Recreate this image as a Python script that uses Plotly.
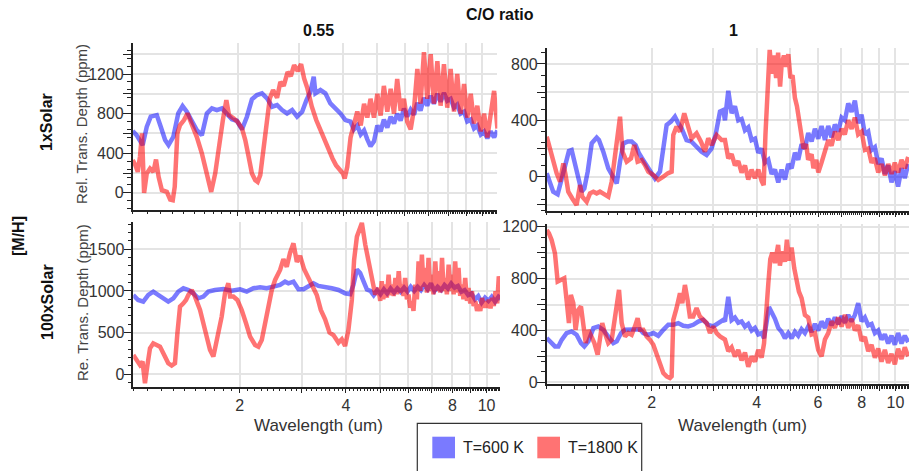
import plotly.graph_objects as go

# ---------------- data ----------------
grid_left = [4.20, 4.29, 4.39, 4.49, 4.59, 4.69, 4.79, 4.90, 5.01, 5.12, 5.23, 5.35, 5.47, 5.59, 5.71,
             5.84, 5.97, 6.10, 6.24, 6.38, 6.52, 6.66, 6.81, 6.96, 7.12, 7.27, 7.44, 7.60, 7.77, 7.94,
             8.12, 8.30, 8.48, 8.67, 8.87, 9.06, 9.27, 9.47, 9.68, 9.90, 10.12, 10.34, 10.57, 10.81, 11.05]
grid_right = [3.245, 3.317, 3.391, 3.466, 3.543, 3.622, 3.703, 3.785, 3.869, 3.955, 4.044, 4.134, 4.226,
              4.320, 4.416, 4.514, 4.614, 4.717, 4.822, 4.929, 5.039, 5.151, 5.265, 5.382, 5.502, 5.624,
              5.750, 5.877, 6.008, 6.141, 6.279, 6.418, 6.561, 6.707, 6.856, 7.009, 7.164, 7.324, 7.486,
              7.653, 7.823, 7.997, 8.175, 8.357, 8.543, 8.733, 8.927, 9.126, 9.327, 9.535, 9.746, 9.963,
              10.18, 10.41, 10.64, 10.88]

# 1xSolar, C/O = 0.55
tl_600_wl = [1.000, 1.026, 1.068, 1.097, 1.126, 1.172, 1.203, 1.238, 1.266, 1.307,
             1.350, 1.389, 1.428, 1.485, 1.525, 1.577, 1.630, 1.685, 1.741, 1.800,
             1.860, 1.922, 1.986, 2.054, 2.122, 2.193, 2.267, 2.343, 2.423, 2.504,
             2.588, 2.675, 2.764, 2.858, 2.953, 3.053, 3.141, 3.225, 3.295, 3.332,
             3.443, 3.558, 3.677, 3.800, 3.929, 4.060] + grid_left
tl_600_ppm = [624, 583, 482, 667, 769, 785, 667, 533, 482, 566,
              802, 877, 819, 701, 634, 583, 802, 853, 836, 853,
              802, 742, 728, 640, 769, 944, 988, 1005, 954, 870,
              887, 836, 802, 836, 769, 819, 937, 1021, 1173, 1005,
              1038, 1005, 903, 853, 802, 735,
              720, 640, 680, 590, 630, 540, 470, 520, 680, 620, 740, 660, 770, 700, 800,
              730, 850, 770, 840, 790, 910, 830, 960, 880, 980, 900, 1000, 920, 1010, 930,
              950, 860, 890, 800, 820, 720, 740, 650, 680, 590, 620, 550, 620, 560, 630]

tl_1800_wl = [1.000, 1.018, 1.034, 1.049, 1.063, 1.078, 1.097, 1.121, 1.146, 1.166,
              1.186, 1.212, 1.252, 1.280, 1.302, 1.319, 1.342, 1.366, 1.402, 1.434,
              1.475, 1.525, 1.577, 1.630, 1.677, 1.722, 1.771, 1.811, 1.853, 1.886,
              1.943, 1.995, 2.054, 2.099, 2.146, 2.193, 2.242, 2.277, 2.317, 2.370,
              2.423, 2.467, 2.521, 2.588, 2.645, 2.704, 2.774, 2.834, 2.896, 2.966,
              3.032, 3.093, 3.161, 3.254, 3.350, 3.443, 3.538, 3.644, 3.729, 3.815,
              3.903, 3.993, 4.04, 4.11] + grid_left
tl_1800_ppm = [330, 280, 212, 364, 600, 0, 196, 246, 212, 337,
               162, 27, 10, -67, -74, 61, 600, 684, 735, 802,
               694, 566, 398, 196, 10, 196, 533, 735, 937, 785,
               752, 718, 651, 533, 364, 196, 128, 111, 179, 465,
               735, 954, 1038, 960, 1120, 1080, 1220, 1180, 1290, 1230,
               1300, 1156, 1055, 870, 735, 634, 533, 415, 347, 280,
               229, 196, 145, 263,
               560, 700, 820, 680, 900, 760, 950, 760, 1000, 780, 1080, 820, 1050, 800, 1150,
               830, 950, 720, 640, 850, 1250, 900, 1420, 950, 1400, 900, 1330, 880, 1300, 860,
               1250, 820, 1200, 800, 1100, 760, 1000, 700, 880, 620, 800, 560, 760, 1030, 650]

# 1xSolar, C/O = 1
tr_600_wl = [1.000, 1.011, 1.044, 1.075, 1.104, 1.133, 1.158, 1.179, 1.205, 1.232,
             1.260, 1.282, 1.311, 1.346, 1.391, 1.412, 1.453, 1.502, 1.553, 1.588,
             1.623, 1.659, 1.707, 1.752, 1.799, 1.839, 1.892, 1.956, 2.044, 2.113,
             2.160, 2.208, 2.272, 2.332, 2.384, 2.437, 2.518, 2.603, 2.690, 2.780,
             2.875, 2.971, 3.050, 3.140, 3.210] + grid_right
tr_600_ppm = [24, -12, -106, -125, -12, 107, 182, 189, 83, -23,
              -106, -83, 36, 237, 277, 260, 178, 59, -12, -47,
              107, 237, 249, 249, 225, 166, 118, 59, -12, 36,
              201, 367, 391, 426, 379, 343, 260, 249, 213, 178,
              154, 201, 296, 462, 473,
              400, 610, 450, 500, 400, 410, 330, 350, 260, 270, 170, 200, 100, 120, 20, 50,
              -40, 50, -20, 90, 60, 170, 120, 230, 200, 310, 250, 340, 270, 360, 260, 360,
              280, 370, 320, 420, 400, 520, 460, 540, 380, 440, 300, 320, 190, 210, 90, 130,
              20, 80, -40, 40, -70, 60, -10, 90]

tr_1800_wl = [1.000, 1.015, 1.044, 1.068, 1.092, 1.116, 1.133, 1.153, 1.184, 1.218,
              1.246, 1.265, 1.302, 1.331, 1.361, 1.391, 1.421, 1.463, 1.502, 1.536,
              1.570, 1.605, 1.623, 1.649, 1.696, 1.745, 1.783, 1.823, 1.872, 1.913,
              1.956, 2.022, 2.089, 2.160, 2.222, 2.282, 2.307, 2.357, 2.411, 2.480,
              2.535, 2.603, 2.690, 2.770, 2.843, 2.906, 2.971, 3.071, 3.174,
              3.245, 3.317, 3.391, 3.466, 3.543, 3.622, 3.703, 3.785, 3.869, 3.955,
              4.044, 4.134, 4.19, 4.24, 4.30, 4.36, 4.42, 4.48, 4.55, 4.61,
              4.67, 4.72, 4.79, 4.86, 4.93, 5.00, 5.07, 5.15, 5.22, 5.31,
              5.38, 5.45, 5.55, 5.62, 5.75, 5.82, 5.93, 6.01, 6.14, 6.28,
              6.42, 6.56, 6.71, 6.86, 7.01, 7.16, 7.32, 7.49, 7.65, 7.82,
              8.00, 8.18, 8.36, 8.54, 8.73, 8.93, 9.13, 9.33, 9.54, 9.75,
              9.96, 10.18, 10.41, 10.64, 10.88]
tr_1800_ppm = [284, 225, 130, 24, -35, 95, 12, -106, -154, -201,
               -59, -142, -177, -118, -106, -118, -106, -130, -142, -35,
               154, 296, 426, 178, 107, 130, 225, 107, 118, 83,
               36, 12, -23, 0, 24, 36, 296, 355, 320, 450,
               367, 272, 308, 249, 178, 272, 225, 296, 260,
               260, 130, 160, 80, 110, 30, 80, -20, 50, -10,
               50, -30, -60, 300, 700, 900, 730, 860, 700, 880,
               640, 800, 860, 780, 870, 700, 720, 560, 500, 380,
               330, 200, 230, 120, 160, 60, 120, 30, 100, 180,
               260, 220, 320, 260, 340, 300, 400, 340, 420, 300,
               320, 190, 200, 100, 130, 30, 90, 10, 90, 20,
               100, 30, 120, 60, 140]

# 100xSolar, C/O = 0.55
bl_600_wl = [1.000, 1.032, 1.067, 1.103, 1.139, 1.177, 1.216, 1.256, 1.298, 1.341,
             1.386, 1.432, 1.479, 1.528, 1.579, 1.631, 1.704, 1.799, 1.899, 2.005,
             2.095, 2.188, 2.285, 2.386, 2.493, 2.603, 2.689, 2.748, 2.840, 2.934,
             3.032, 3.133, 3.236, 3.343, 3.491, 3.647, 3.808, 3.977, 4.111, 4.20,
             4.295, 4.387, 4.485, 4.585] + grid_left[5:]
bl_600_ppm = [952, 892, 872, 952, 992, 952, 912, 872, 912, 992,
              1032, 1012, 972, 912, 932, 992, 1012, 1024, 1004, 1020,
              992, 1032, 1044, 1032, 1052, 1072, 1112, 1092, 1112, 1020,
              1020, 1052, 1092, 1060, 1052, 1032, 1012, 972, 960, 1076,
              1256, 1216, 1116, 1016,
              1000, 950, 1010, 960, 1020, 970, 1030, 980, 1030, 990,
              1040, 990, 1050, 1000, 1050, 1010, 1070, 1020, 1090, 1000,
              1050, 1010, 1070, 1030, 1090, 1040, 1060, 990, 1010, 950,
              970, 900, 940, 860, 920, 880, 930, 870, 930, 900]

bl_1800_wl = [1.000, 1.022, 1.044, 1.062, 1.079, 1.095, 1.115, 1.139, 1.164, 1.190,
              1.229, 1.256, 1.284, 1.312, 1.333, 1.356, 1.386, 1.410, 1.432, 1.463,
              1.495, 1.545, 1.596, 1.649, 1.685, 1.722, 1.779, 1.818, 1.858, 1.879,
              1.920, 1.970, 2.027, 2.085, 2.141, 2.212, 2.260, 2.310, 2.360, 2.412,
              2.466, 2.520, 2.603, 2.660, 2.719, 2.779, 2.840, 2.903, 2.966, 3.045,
              3.133, 3.236, 3.307, 3.394, 3.491, 3.593, 3.686, 3.808, 3.892, 3.977,
              4.064, 4.155, 4.217, 4.295, 4.387, 4.436, 4.535, 4.635, 4.737, 4.839,
              4.94, 5.00, 5.05, 5.10, 5.16, 5.22, 5.28, 5.34, 5.40, 5.46,
              5.52, 5.58, 5.64, 5.70, 5.76, 5.82, 5.88, 5.95, 6.01, 6.08,
              6.15, 6.21, 6.28, 6.35, 6.42, 6.49, 6.56, 6.63, 6.71, 6.78,
              6.85, 6.92, 7.00, 7.08, 7.16, 7.24, 7.32, 7.40, 7.48, 7.56,
              7.64, 7.72, 7.81, 7.90, 7.98, 8.07, 8.15, 8.24, 8.33, 8.42,
              8.51, 8.60, 8.70, 8.80, 8.89, 8.99, 9.09, 9.19, 9.29, 9.40,
              9.50, 9.60, 9.71, 9.82, 9.93, 10.04, 10.15, 10.26, 10.37, 10.48,
              10.60, 10.72, 10.83, 10.95]
bl_1800_ppm = [232, 172, 112, 152, -108, 92, 312, 372, 352, 332,
               212, 132, 104, 132, 492, 812, 852, 892, 952, 1012,
               932, 772, 532, 292, 212, 412, 692, 972, 1092, 932,
               932, 892, 772, 612, 452, 352, 332, 412, 612, 772,
               1012, 1132, 1252, 1380, 1290, 1460, 1572, 1350, 1420, 1260,
               1152, 1052, 952, 772, 660, 500, 470, 380, 420, 340,
               532, 892, 1372, 1652, 1772, 1816, 1556, 1356, 1116, 956,
               1036, 880, 1116, 900, 1076, 920, 1196, 950, 1076, 940,
               1156, 960, 1236, 980, 1076, 940, 1156, 900, 956, 800,
               876, 760, 1076, 900, 1356, 1000, 1436, 1050, 1276, 980,
               1396, 1000, 1196, 960, 1356, 1000, 1236, 980, 1396, 1000,
               1156, 960, 1316, 1000, 1196, 960, 1356, 980, 1276, 940,
               1076, 900, 1156, 880, 1036, 850, 996, 820, 876, 760,
               836, 760, 916, 800, 876, 800, 896, 790, 916, 820,
               996, 850, 1176, 900]

# 100xSolar, C/O = 1
br_600_wl = [1.000, 1.022, 1.056, 1.080, 1.104, 1.140, 1.179, 1.218, 1.254, 1.282,
             1.317, 1.361, 1.406, 1.453, 1.502, 1.553, 1.588, 1.634, 1.677, 1.733,
             1.791, 1.851, 1.892, 1.956, 2.022, 2.089, 2.160, 2.232, 2.307, 2.384,
             2.464, 2.546, 2.632, 2.720, 2.811, 2.906, 3.003, 3.105, 3.210,
             3.245, 3.317, 3.391, 3.466, 3.543, 3.622, 3.703, 3.785, 3.869, 3.955,
             4.044, 4.134, 4.20, 4.27, 4.34, 4.416, 4.514, 4.614, 4.717, 4.822,
             4.929, 5.039, 5.151, 5.265, 5.382, 5.502, 5.624, 5.750, 5.877, 6.008,
             6.141, 6.279, 6.418, 6.561, 6.707, 6.856, 7.009, 7.164, 7.324, 7.486,
             7.653, 7.823, 7.997, 8.175, 8.357, 8.543, 8.733, 8.927, 9.126, 9.327,
             9.535, 9.746, 9.963, 10.18, 10.41, 10.64, 10.88]
br_600_ppm = [341, 316, 277, 277, 328, 380, 393, 367, 303, 277,
              316, 418, 431, 405, 354, 303, 316, 380, 405, 405,
              410, 410, 380, 367, 380, 359, 405, 444, 444, 457,
              436, 431, 444, 469, 482, 444, 431, 457, 482,
              470, 660, 480, 500, 460, 470, 430, 450, 400, 420,
              370, 380, 340, 460, 580, 540, 490, 420, 390, 340,
              380, 340, 390, 360, 410, 380, 430, 390, 450, 400,
              470, 420, 490, 440, 500, 450, 510, 460, 520, 470,
              520, 610, 470, 500, 440, 450, 380, 400, 330, 370,
              300, 360, 290, 380, 300, 360, 310]

br_1800_wl = [1.000, 1.015, 1.033, 1.056, 1.075, 1.099, 1.123, 1.140, 1.158, 1.173,
              1.192, 1.210, 1.232, 1.254, 1.274, 1.294, 1.317, 1.340, 1.370, 1.400,
              1.421, 1.443, 1.469, 1.502, 1.536, 1.563, 1.588, 1.612, 1.641, 1.677,
              1.714, 1.752, 1.791, 1.823, 1.851, 1.892, 1.934, 1.978, 2.022, 2.066,
              2.113, 2.160, 2.208, 2.257, 2.282, 2.307, 2.357, 2.411, 2.448, 2.491,
              2.535, 2.574, 2.632, 2.690, 2.750, 2.811, 2.875, 2.939, 3.003, 3.071,
              3.140,
              3.245, 3.317, 3.391, 3.466, 3.543, 3.622, 3.703, 3.785, 3.869, 3.955,
              4.044, 4.134, 4.20, 4.264, 4.320, 4.377, 4.436, 4.514, 4.61, 4.664,
              4.735, 4.822, 4.884, 4.949, 5.039, 5.127, 5.206, 5.288, 5.382, 5.502,
              5.624, 5.750, 5.877, 6.008, 6.141, 6.279, 6.418, 6.561, 6.707, 6.856,
              7.009, 7.164, 7.324, 7.486, 7.653, 7.823, 7.997, 8.175, 8.357, 8.543,
              8.733, 8.927, 9.126, 9.327, 9.535, 9.746, 9.963, 10.18, 10.41, 10.64,
              10.88]
br_1800_ppm = [1175, 1149, 1098, 995, 777, 790, 803, 636, 457, 675,
               610, 405, 559, 585, 405, 303, 405, 354, 303, 213,
               328, 457, 380, 303, 328, 482, 559, 713, 457, 354,
               380, 367, 431, 495, 405, 405, 354, 328, 290, 226,
               149, 72, 46, 33, 46, 482, 572, 687, 610, 751,
               636, 508, 508, 572, 508, 482, 457, 380, 431, 380,
               354,
               330, 240, 270, 200, 250, 170, 230, 120, 200, 160,
               250, 190, 300, 600, 760, 950, 1000, 920, 1060, 900,
               1010, 930, 1100, 940, 1040, 880, 800, 700, 650, 520,
               500, 370, 380, 250, 200, 330, 380, 470, 420, 500,
               430, 520, 420, 490, 400, 440, 320, 350, 240, 290,
               190, 260, 160, 250, 150, 220, 140, 260, 180, 270,
               200]

x_tick_labels = [2, 4, 6, 8, 10]
x_grid_vals = [2, 3, 4, 5, 6, 7, 8, 9, 10]
row_labels = ["1xSolar", "100xSolar"]
col_labels = ["0.55", "1"]
legend_names = ["T=600 K", "T=1800 K"]

# ---------------- styling ----------------
W, H = 909, 471
FONT = "Liberation Sans, Arial, Helvetica, sans-serif"
BLUE = "rgba(0,0,255,0.52)"
RED = "rgba(255,0,0,0.55)"
AXC = "#222222"
GRIDC = "#e4e4e4"
TXT = "#333333"


def fx(p):
    return p / W


def fy(p):
    return 1 - p / H


panels = [
    dict(xpx=(132.7, 497.3), ypx=(43.3, 209.5), xr=(0, 1.043), yr=(-168, 1510),
         lab=400, mnr=80, grd=200, xlab=False,
         series=[(tl_600_wl, tl_600_ppm, BLUE), (tl_1800_wl, tl_1800_ppm, RED)]),
    dict(xpx=(546.7, 909), ypx=(48.3, 210.7), xr=(0, 1.039), yr=(-241, 911),
         lab=400, mnr=80, grd=200, xlab=False,
         series=[(tr_600_wl, tr_600_ppm, BLUE), (tr_1800_wl, tr_1800_ppm, RED)]),
    dict(xpx=(133.3, 500), ypx=(221.7, 386.7), xr=(0, 1.038), yr=(-149, 1831),
         lab=500, mnr=100, grd=500, xlab=True,
         series=[(bl_600_wl, bl_600_ppm, BLUE), (bl_1800_wl, bl_1800_ppm, RED)]),
    dict(xpx=(546.7, 909), ypx=(224, 384.3), xr=(0, 1.039), yr=(-15, 1221),
         lab=400, mnr=80, grd=200, xlab=True,
         series=[(br_600_wl, br_600_ppm, BLUE), (br_1800_wl, br_1800_ppm, RED)]),
]

fig = go.Figure()
x_minor_vals = [round(1 + 0.1 * k, 1) for k in range(101)]

for i, p in enumerate(panels):
    n = "" if i == 0 else str(i + 1)
    for wl, ppm, col in p["series"]:
        assert len(wl) == len(ppm), (i, len(wl), len(ppm))
        fig.add_trace(go.Scatter(x=wl, y=ppm, mode="lines",
                                 line=dict(color=col, width=4.5),
                                 xaxis="x" + n, yaxis="y" + n,
                                 showlegend=False, hoverinfo="skip"))
    xtext = [(str(int(v)) if (p["xlab"] and v in x_tick_labels) else "") for v in x_minor_vals]
    y0, y1 = p["yr"]
    start = -((-y0) // p["mnr"]) * p["mnr"]
    yt = list(range(int(start), int(y1) + 1, p["mnr"]))
    ytext = [(str(v) if v % p["lab"] == 0 else "") for v in yt]
    gstart = int(-((-y0) // p["grd"]) * p["grd"])
    yg = list(range(gstart, int(y1) + 1, p["grd"]))
    fig.update_layout(**{
        "xaxis" + n: dict(
            type="log", range=list(p["xr"]), domain=[fx(p["xpx"][0]), fx(p["xpx"][1])],
            anchor="y" + n, showline=True, linecolor=AXC, linewidth=1.5,
            ticks="outside", ticklen=3, tickwidth=1, tickcolor=AXC,
            tickmode="array", tickvals=x_minor_vals, ticktext=xtext,
            showgrid=False, zeroline=False, automargin=False,
            tickfont=dict(size=16, color=TXT, family=FONT),
            minor=dict(tickmode="array", tickvals=x_grid_vals, ticks="outside", ticklen=5,
                       tickwidth=1, tickcolor=AXC, showgrid=True, gridcolor=GRIDC, gridwidth=1.5),
        ),
        "yaxis" + n: dict(
            range=[y0, y1], domain=[fy(p["ypx"][1]), fy(p["ypx"][0])],
            anchor="x" + n, showline=True, linecolor=AXC, linewidth=1.5,
            ticks="outside", ticklen=4, tickwidth=1, tickcolor=AXC,
            tickmode="array", tickvals=yt, ticktext=ytext,
            showgrid=False, zeroline=False, automargin=False,
            tickfont=dict(size=16, color=TXT, family=FONT),
            minor=dict(tickmode="array", tickvals=yg, ticks="outside", ticklen=8,
                       tickwidth=1, tickcolor=AXC, showgrid=True, gridcolor=GRIDC, gridwidth=1.5),
        ),
    })

ann = []


def add_text(text, x, y, size, bold=False, angle=0, color="#111111", xanchor="center"):
    ann.append(dict(text=("<b>%s</b>" % text) if bold else text, x=fx(x), y=fy(y),
                    xref="paper", yref="paper", showarrow=False, textangle=angle,
                    xanchor=xanchor, yanchor="middle",
                    font=dict(size=size, color=color, family=FONT)))


add_text("C/O ratio", 500, 15, 16, bold=True)
add_text(col_labels[0], 318, 30.5, 16, bold=True)
add_text(col_labels[1], 733, 30.5, 16, bold=True)
add_text(row_labels[0], 47, 122, 16, bold=True, angle=-90)
add_text(row_labels[1], 47, 302, 16, bold=True, angle=-90)
add_text("[M/H]", 18, 236, 16, bold=True, angle=-90)
add_text("Rel. Trans. Depth (ppm)", 82, 124, 15, angle=-90, color="#444444")
add_text("Re. Trans. Depth (ppm)", 82, 303, 15, angle=-90, color="#444444")
add_text("Wavelength (um)", 318, 425, 17, color=TXT)
add_text("Wavelength (um)", 742, 425, 17, color=TXT)
add_text(legend_names[0], 460.7, 447.5, 16, color="#222222", xanchor="left")
add_text(legend_names[1], 565.7, 447.5, 16, color="#222222", xanchor="left")

shapes = [
    dict(type="rect", xref="paper", yref="paper", x0=fx(417.3), x1=fx(641.7), y0=fy(476), y1=fy(423.3),
         line=dict(color="#333333", width=1.2), fillcolor="white", layer="below"),
    dict(type="rect", xref="paper", yref="paper", x0=fx(432.3), x1=fx(455), y0=fy(458.3), y1=fy(436.7),
         line=dict(width=0), fillcolor=BLUE),
    dict(type="rect", xref="paper", yref="paper", x0=fx(537.3), x1=fx(560), y0=fy(458.3), y1=fy(436.7),
         line=dict(width=0), fillcolor=RED),
]

fig.update_layout(width=W, height=H,
                  margin=dict(l=0, r=0, t=0, b=0, pad=0, autoexpand=False),
                  plot_bgcolor="white", paper_bgcolor="white", showlegend=False,
                  annotations=ann, shapes=shapes, font=dict(family=FONT))

fig.write_html("out.html")
